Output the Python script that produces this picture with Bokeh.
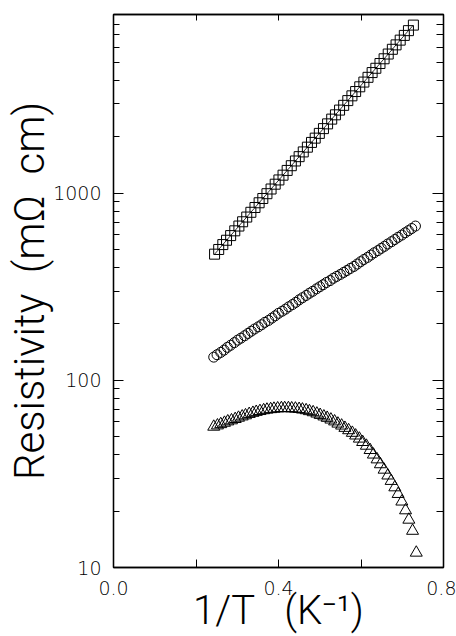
from bokeh.plotting import figure
from bokeh.models import FixedTicker, LinearAxis, LogAxis, Range1d, BasicTickFormatter
from bokeh.embed import file_html
from bokeh.resources import INLINE

# ---- data ----
sq_x = [0.245, 0.255, 0.265, 0.274, 0.284, 0.294, 0.304, 0.313, 0.323, 0.333,
        0.343, 0.353, 0.362, 0.372, 0.382, 0.392, 0.401, 0.411, 0.421, 0.431,
        0.441, 0.450, 0.460, 0.470, 0.480, 0.489, 0.499, 0.509, 0.519, 0.529,
        0.538, 0.548, 0.558, 0.568, 0.578, 0.587, 0.597, 0.607, 0.617, 0.627,
        0.636, 0.646, 0.656, 0.666, 0.676, 0.685, 0.695, 0.705, 0.715, 0.727]
sq_y = [472, 500, 531, 560, 593, 629, 667, 703, 745, 790,
        838, 888, 936, 993, 1052, 1116, 1176, 1247, 1322, 1401,
        1485, 1566, 1660, 1760, 1866, 1967, 2085, 2211, 2344, 2485,
        2620, 2777, 2944, 3121, 3309, 3489, 3698, 3920, 4156, 4406,
        4645, 4924, 5221, 5534, 5867, 6194, 6566, 6960, 7379, 7900]

ci_x = [0.243, 0.251, 0.260, 0.268, 0.276, 0.284, 0.293, 0.301, 0.309, 0.318,
        0.326, 0.334, 0.342, 0.351, 0.359, 0.367, 0.376, 0.384, 0.392, 0.400,
        0.409, 0.417, 0.425, 0.434, 0.442, 0.450, 0.458, 0.467, 0.475, 0.483,
        0.492, 0.500, 0.508, 0.516, 0.525, 0.533, 0.541, 0.550, 0.558, 0.566,
        0.574, 0.583, 0.591, 0.599, 0.607, 0.616, 0.624, 0.632, 0.641, 0.649,
        0.657, 0.665, 0.674, 0.682, 0.690, 0.699, 0.707, 0.715, 0.723, 0.732]
ci_y = [133, 137, 141, 145, 150, 154, 159, 164, 168, 173,
        178, 183, 188, 193, 198, 204, 209, 215, 221, 228,
        234, 240, 247, 254, 261, 269, 276, 284, 292, 299,
        308, 316, 324, 333, 341, 351, 359, 368, 377, 386,
        396, 406, 418, 430, 442, 454, 467, 480, 493, 507,
        520, 535, 550, 565, 581, 597, 614, 630, 647, 667]

tr_x = [0.243, 0.252, 0.260, 0.269, 0.277, 0.286, 0.295, 0.303, 0.312, 0.320,
        0.329, 0.338, 0.346, 0.355, 0.364, 0.372, 0.381, 0.389, 0.398, 0.407,
        0.415, 0.424, 0.432, 0.441, 0.450, 0.458, 0.467, 0.475, 0.484, 0.493,
        0.501, 0.510, 0.518, 0.527, 0.536, 0.544, 0.553, 0.561, 0.570, 0.579,
        0.587, 0.596, 0.604, 0.613, 0.622, 0.630, 0.639, 0.647, 0.656, 0.665,
        0.673, 0.682, 0.690, 0.699, 0.708, 0.716, 0.725, 0.734]
tr_y = [56.5, 57.4, 58.3, 59.3, 60.3, 61.1, 62.1, 63.1, 64.1, 65.0,
        66.1, 67.0, 67.8, 68.5, 69.2, 69.7, 70.1, 70.5, 70.8, 71.0,
        71.0, 71.0, 70.8, 70.6, 70.3, 69.8, 69.2, 68.4, 67.5, 66.4,
        65.3, 64.1, 63.0, 61.7, 60.3, 58.7, 57.3, 55.7, 54.1, 52.4,
        50.7, 48.8, 46.8, 44.7, 42.4, 40.1, 37.8, 35.6, 33.3, 31.0,
        29.0, 26.8, 24.7, 22.5, 20.2, 18.0, 15.7, 12.0]

x_ticks = [0.0, 0.2, 0.4, 0.6, 0.8]
x_tick_labels = {0.0: "0.0", 0.2: "", 0.4: "0.4", 0.6: "", 0.8: "0.8"}
y_ticks = [10, 100, 1000]
y_tick_labels = {10: "10", 100: "100", 1000: "1000"}
y_minor = [20, 30, 40, 50, 60, 70, 80, 90,
           200, 300, 400, 500, 600, 700, 800, 900,
           2000, 3000, 4000, 5000, 6000, 7000, 8000, 9000]

x_label = "1/T\u00a0\u00a0\u00a0(K\u207b\u00b9)"
y_label = "Resistivity\u00a0\u00a0(m\u03a9\u00a0\u00a0cm)"

INK = "#000000"
TICK_FONT = "DejaVu Sans Light"
LABEL_FONT = "Roboto Light"

p = figure(width=456, height=636, y_axis_type="log",
           x_range=Range1d(0.0, 0.8), y_range=Range1d(10, 9000),
           output_backend="svg", toolbar_location=None,
           min_border_left=113, min_border_right=13,
           min_border_top=14, min_border_bottom=69)
p.grid.visible = False
p.outline_line_color = INK
p.outline_line_width = 1.3
p.background_fill_color = "white"
p.border_fill_color = "white"

p.line(sq_x, sq_y, line_color=INK, line_width=0.8)
p.scatter(sq_x, sq_y, marker="square", size=10, fill_color=None,
          line_color=INK, line_width=1)
p.scatter(ci_x, ci_y, marker="circle", size=10, fill_color=None,
          line_color=INK, line_width=1)
p.scatter(tr_x, tr_y, marker="triangle", size=12, fill_color=None,
          line_color=INK, line_width=1)

def style(ax, labels=True, label_size="40px"):
    ax.axis_line_color = INK
    ax.axis_line_width = 1.3
    ax.major_tick_line_color = INK
    ax.minor_tick_line_color = INK
    ax.major_tick_out = 0
    ax.minor_tick_out = 0
    ax.major_label_text_font = TICK_FONT
    ax.axis_label_text_font = LABEL_FONT
    ax.axis_label_text_font_style = "normal"
    ax.axis_label_text_color = INK
    ax.axis_label_text_font_size = label_size
    if labels:
        ax.major_label_text_color = INK
        ax.major_label_text_font_size = "19px"
    else:
        ax.major_label_text_color = None
        ax.major_label_text_font_size = "1px"
        ax.major_label_standoff = 0

xb = p.xaxis[0]
xb.ticker = FixedTicker(ticks=x_ticks)
xb.major_label_overrides = x_tick_labels
xb.major_tick_in = 8
xb.minor_tick_in = 0
xb.major_label_standoff = 13
style(xb, label_size="40px")
xb.axis_label = x_label
xb.axis_label_standoff = -11

yl = p.yaxis[0]
yl.ticker = FixedTicker(ticks=y_ticks, minor_ticks=y_minor)
yl.formatter = BasicTickFormatter()
yl.major_label_overrides = y_tick_labels
yl.major_tick_in = 10
yl.minor_tick_in = 6
yl.major_label_standoff = 12
style(yl, label_size="42px")
yl.axis_label = y_label
yl.axis_label_standoff = -4

xt = LinearAxis(ticker=FixedTicker(ticks=x_ticks))
xt.major_tick_in = 6
xt.minor_tick_in = 0
style(xt, labels=False)
p.add_layout(xt, "above")

yr = LogAxis(ticker=FixedTicker(ticks=y_ticks, minor_ticks=y_minor))
yr.major_tick_in = 11
yr.minor_tick_in = 7
style(yr, labels=False)
p.add_layout(yr, "right")

open("out.html", "w").write(file_html(p, INLINE))
